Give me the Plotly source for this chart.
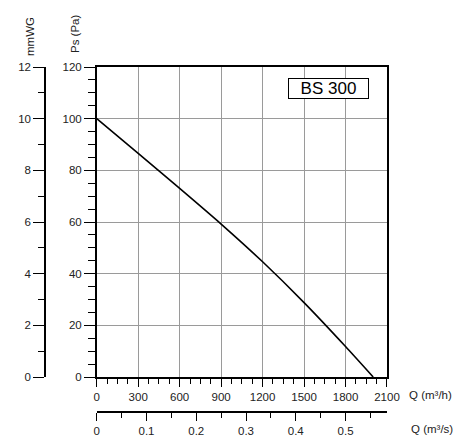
# BS 300 fan curve: static pressure vs air flow
import plotly.graph_objects as go

# ── DATA ────────────────────────────────────────────────────
flow_m3h = [0, 300, 600, 900, 1200, 1500, 1800, 2000]
ps_pa    = [100, 86.6, 73.0, 59.2, 44.6, 28.8, 11.8, 0]

# secondary scales (same curve in other units)
flow_m3s = [q / 3600 for q in flow_m3h]
ps_mmwg  = [p / 10 for p in ps_pa]

model_name = "BS 300"

# ── GEOMETRY (reference pixels -> paper) ────────────────────
W, H = 456, 443
L, T = 45, 67
R = W - 386.7
B = H - 412
PW, PH = W - L - R, H - T - B

def px(x):
    return (x - L) / PW

def py(y):
    return (H - B - y) / PH

x_dom = [px(96.7), 1]
y_dom = [py(377), 1]

FONT = "Liberation Sans, Arial, sans-serif"
TXT  = "#222222"

fig = go.Figure()
fig.add_trace(go.Scatter(
    x=flow_m3h, y=ps_pa, mode="lines",
    line=dict(color="black", width=1.6, shape="spline", smoothing=0.6),
    showlegend=False, hoverinfo="skip"
))
# invisible twin so the secondary axes get drawn
fig.add_trace(go.Scatter(
    x=flow_m3s, y=ps_mmwg, xaxis="x2", yaxis="y2", mode="lines",
    opacity=0, showlegend=False, hoverinfo="skip"
))

tick_font = dict(family=FONT, size=11.5, color=TXT)

fig.update_layout(
    width=W, height=H,
    margin=dict(l=L, r=R, t=T, b=B, autoexpand=False),
    paper_bgcolor="white", plot_bgcolor="white",
    font=dict(family=FONT, size=11.5, color=TXT),
    xaxis=dict(
        domain=x_dom, range=[0, 2100], tick0=0, dtick=300,
        showgrid=True, gridcolor="#9a9a9a", gridwidth=1,
        showline=True, linecolor="black", linewidth=1.5, mirror=True,
        ticks="outside", ticklen=8, tickcolor="black", tickwidth=1.3,
        minor=dict(dtick=75, ticks="outside", ticklen=5, tickcolor="black",
                   tickwidth=1.3, showgrid=False),
        tickfont=tick_font, zeroline=False, anchor="y", automargin=False,
    ),
    yaxis=dict(
        domain=y_dom, range=[0, 120], tick0=0, dtick=20,
        showgrid=True, gridcolor="#9a9a9a", gridwidth=1,
        showline=True, linecolor="black", linewidth=1.5, mirror=True,
        ticks="outside", ticklen=11, tickcolor="black", tickwidth=1.3,
        minor=dict(dtick=5, ticks="outside", ticklen=7, tickcolor="black",
                   tickwidth=1.3, showgrid=False),
        tickfont=tick_font, zeroline=False, anchor="x", automargin=False,
    ),
    xaxis2=dict(
        overlaying="x", anchor="free", position=0, side="bottom",
        range=[0, 2100 / 3600], tick0=0, dtick=0.1,
        showgrid=False, zeroline=False,
        showline=True, linecolor="black", linewidth=1.5,
        ticks="outside", ticklen=8, tickcolor="black", tickwidth=1.3,
        minor=dict(dtick=0.05, ticks="outside", ticklen=5, tickcolor="black",
                   tickwidth=1.3, showgrid=False),
        tickfont=tick_font, automargin=False,
    ),
    yaxis2=dict(
        overlaying="y", anchor="free", position=0, side="left",
        range=[0, 12], tick0=0, dtick=2,
        showgrid=False, zeroline=False,
        showline=True, linecolor="black", linewidth=1.5,
        ticks="outside", ticklen=11, tickcolor="black", tickwidth=1.3,
        minor=dict(dtick=1, ticks="outside", ticklen=6, tickcolor="black",
                   tickwidth=1.3, showgrid=False),
        tickfont=tick_font, automargin=False,
    ),
)

# ── AXIS TITLES + MODEL LABEL ───────────────────────────────
def note(text, x, y, **kw):
    opts = dict(xref="paper", yref="paper", showarrow=False,
                xanchor="center", yanchor="middle", font=dict(size=11.5))
    opts.update(kw)
    fig.add_annotation(text=text, x=px(x), y=py(y), **opts)

note("mmWG", 30, 36, textangle=-90)
note("Ps (Pa)", 75, 34, textangle=-90)
note("Q (m³/h)", 407, 395, xanchor="left")
note("Q (m³/s)", 409, 429, xanchor="left")
note(model_name, 328.5, 88.5, font=dict(size=17, color="black"),
     width=77, height=17, bgcolor="white",
     bordercolor="black", borderwidth=1, borderpad=1)

# drop the default 8px page margin so the figure fills the window
fig.write_html("out.html",
               config={"displayModeBar": False},
               post_script="document.body.style.margin='0';"
                           "document.body.style.overflow='hidden';")
